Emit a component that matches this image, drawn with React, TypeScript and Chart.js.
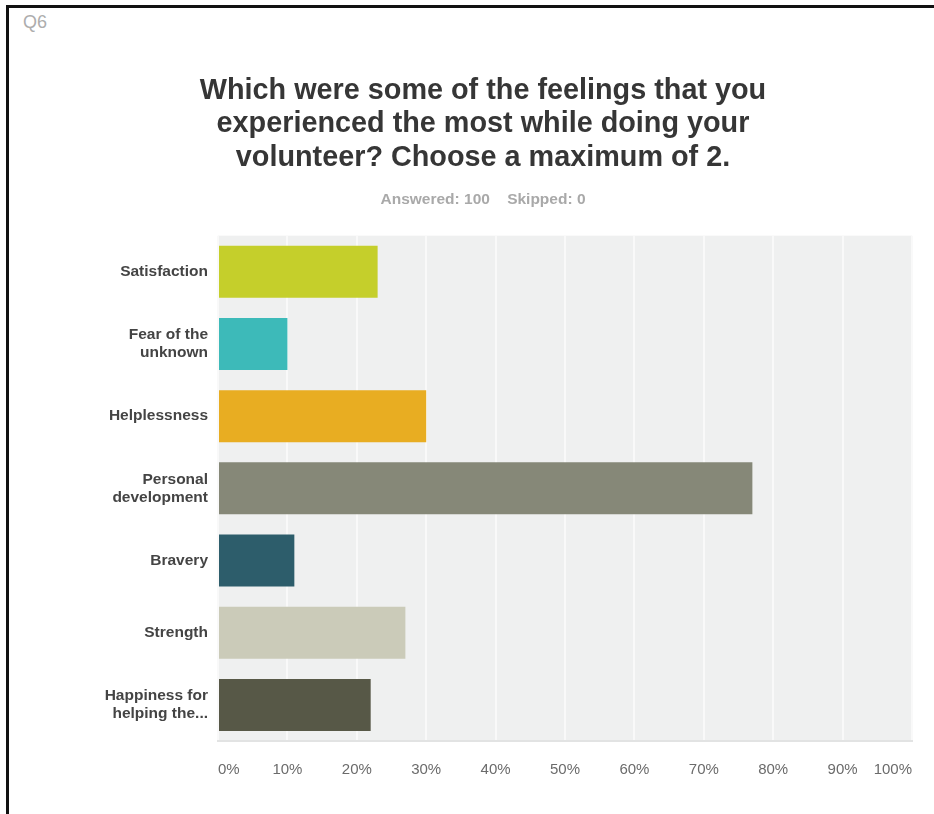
import React, { useEffect, useRef } from "react";
import { Chart, registerables } from "chart.js";

Chart.register(...registerables);

const QUESTION_ID = "Q6";
const TITLE_LINES = [
  "Which were some of the feelings that you",
  "experienced the most while doing your",
  "volunteer? Choose a maximum of 2.",
];
const SUBTITLE = "Answered: 100    Skipped: 0";

const CATEGORIES: (string | string[])[] = [
  "Satisfaction",
  ["Fear of the", "unknown"],
  "Helplessness",
  ["Personal", "development"],
  "Bravery",
  "Strength",
  ["Happiness for", "helping the..."],
];
const VALUES = [23, 10, 30, 77, 11, 27, 22];
const BAR_COLORS = [
  "#c5cf2b",
  "#3dbab9",
  "#e8ad22",
  "#868878",
  "#2d5d6b",
  "#cbcbb9",
  "#575847",
];
const X_MIN = 0;
const X_MAX = 100;
const X_STEP = 10;

const FONT = "'Liberation Sans', Arial, Helvetica, sans-serif";

const plotBackground = {
  id: "plotBackground",
  beforeDraw(chart: any) {
    const { ctx, chartArea } = chart;
    ctx.save();
    ctx.fillStyle = "#eff0f0";
    ctx.fillRect(chartArea.left, chartArea.top, chartArea.right - chartArea.left, chartArea.bottom - chartArea.top);
    ctx.restore();
  },
};

export default function App() {
  const canvasRef = useRef<HTMLCanvasElement | null>(null);

  useEffect(() => {
    if (!canvasRef.current) return;
    const chart = new Chart(canvasRef.current, {
      type: "bar",
      data: {
        labels: CATEGORIES,
        datasets: [
          {
            data: VALUES,
            backgroundColor: BAR_COLORS,
            borderWidth: 0,
            barPercentage: 0.72,
            categoryPercentage: 1,
          },
        ],
      },
      plugins: [plotBackground],
      options: {
        indexAxis: "y",
        animation: false,
        responsive: true,
        maintainAspectRatio: false,
        layout: { padding: { top: 0, left: 54, right: 22, bottom: 15 } },
        plugins: {
          legend: { display: false },
          tooltip: { enabled: false },
          title: {
            display: true,
            text: TITLE_LINES,
            color: "#363636",
            font: { family: FONT, size: 28.8, weight: "bold", lineHeight: 1.17 },
            padding: { top: 74, bottom: 0 },
          },
          subtitle: {
            display: true,
            text: SUBTITLE,
            color: "#a9a9a9",
            font: { family: FONT, size: 15.5, weight: "bold", lineHeight: 1.2 },
            padding: { top: 15, bottom: 27 },
          },
        },
        scales: {
          x: {
            min: X_MIN,
            max: X_MAX,
            grid: { color: "#f9f9f9", lineWidth: 2, drawTicks: false },
            border: { display: true, color: "#e2e3e3", width: 2 },
            ticks: {
              stepSize: X_STEP,
              align: "inner",
              padding: 20,
              color: "#6b6b6b",
              font: { family: FONT, size: 15 },
              callback: (v: any) => v + "%",
            },
          },
          y: {
            grid: { display: false, drawTicks: false },
            border: { display: false },
            afterFit: (s: any) => {
              s.width = 164;
            },
            ticks: {
              padding: 10,
              color: "#444444",
              font: { family: FONT, size: 15.5, weight: "bold", lineHeight: 1.17 },
            },
          },
        },
      },
    } as any);
    return () => chart.destroy();
  }, []);

  return (
    <div style={{ position: "absolute", left: 0, top: 0, width: 934, height: 814, background: "#fff", overflow: "hidden" }}>
      <div
        style={{
          position: "absolute",
          left: 6,
          top: 5,
          width: 934,
          height: 820,
          borderLeft: "3px solid #111",
          borderTop: "3px solid #111",
        }}
      />
      <div
        style={{
          position: "absolute",
          left: 23,
          top: 12,
          fontFamily: FONT,
          fontSize: 18,
          color: "#adadad",
        }}
      >
        {QUESTION_ID}
      </div>
      <div style={{ position: "absolute", left: 0, top: 0, width: 934, height: 814 }}>
        <canvas ref={canvasRef} />
      </div>
    </div>
  );
}
